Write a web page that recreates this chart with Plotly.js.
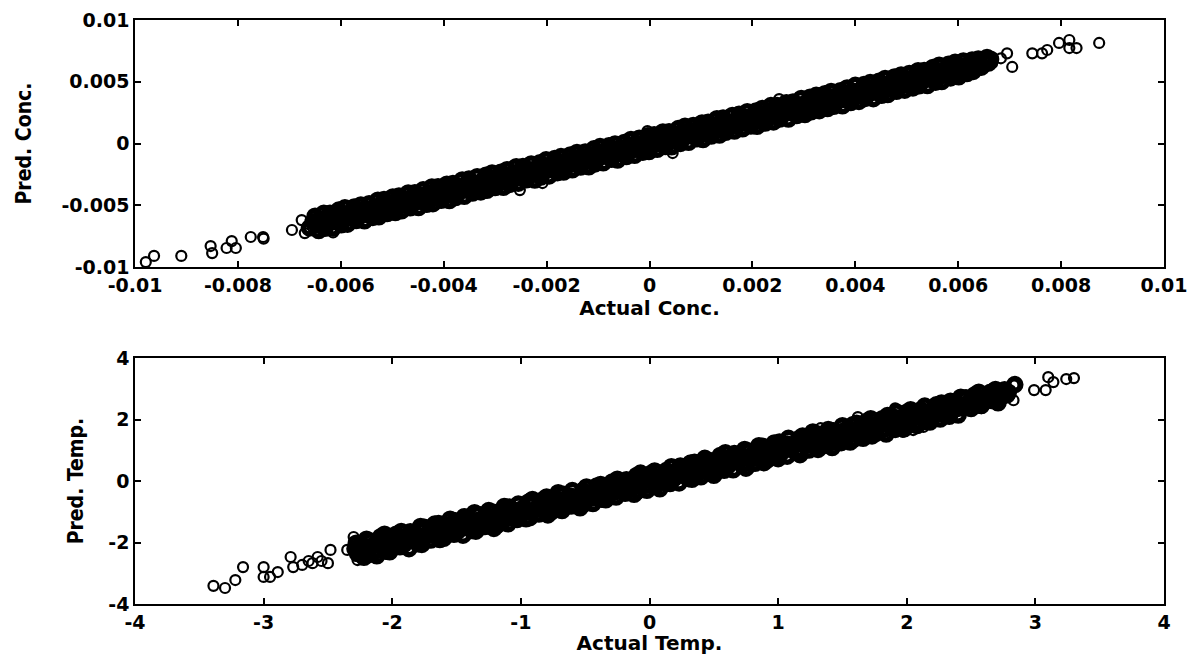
<!DOCTYPE html>
<html><head><meta charset="utf-8">
<script src="https://cdn.plot.ly/plotly-3.0.1.min.js"></script>
<style>html,body{margin:0;padding:0;background:#fff}#chart{width:1191px;height:655px}</style>
</head><body><div id="chart"></div>
<script>
// ---- Upper panel: concentration, dense band ----
const concBandActual = [
-650e-5,-633e-5,-621e-5,-604e-5,-592e-5,-574e-5,-561e-5,-545e-5,-528e-5,-516e-5,
-499e-5,-487e-5,-469e-5,-456e-5,-440e-5,-423e-5,-411e-5,-394e-5,-382e-5,-364e-5,
-351e-5,-335e-5,-318e-5,-306e-5,-289e-5,-277e-5,-259e-5,-246e-5,-230e-5,-213e-5,
-201e-5,-184e-5,-172e-5,-154e-5,-141e-5,-125e-5,-108e-5,-96e-5,-79e-5,-67e-5,
-49e-5,-36e-5,-20e-5,-3e-5,9e-5,26e-5,38e-5,56e-5,69e-5,85e-5,
102e-5,114e-5,131e-5,143e-5,161e-5,174e-5,190e-5,207e-5,219e-5,236e-5,
248e-5,266e-5,279e-5,295e-5,312e-5,324e-5,341e-5,353e-5,371e-5,384e-5,
400e-5,417e-5,429e-5,446e-5,458e-5,476e-5,489e-5,505e-5,522e-5,534e-5,
551e-5,563e-5,581e-5,594e-5,610e-5,627e-5,639e-5,656e-5,
-654e-5,-641e-5,-625e-5,-608e-5,-597e-5,-579e-5,-565e-5,-549e-5,-536e-5,-520e-5,
-503e-5,-492e-5,-474e-5,-460e-5,-444e-5,-431e-5,-415e-5,-398e-5,-387e-5,-369e-5,
-355e-5,-339e-5,-326e-5,-310e-5,-293e-5,-282e-5,-264e-5,-250e-5,-234e-5,-221e-5,
-205e-5,-188e-5,-177e-5,-159e-5,-145e-5,-129e-5,-116e-5,-100e-5,-83e-5,-72e-5,
-54e-5,-40e-5,-24e-5,-11e-5,5e-5,22e-5,33e-5,51e-5,65e-5,81e-5,
94e-5,110e-5,127e-5,138e-5,156e-5,170e-5,186e-5,199e-5,215e-5,232e-5,
243e-5,261e-5,275e-5,291e-5,304e-5,320e-5,337e-5,348e-5,366e-5,380e-5,
396e-5,409e-5,425e-5,442e-5,453e-5,471e-5,485e-5,501e-5,514e-5,530e-5,
547e-5,558e-5,576e-5,590e-5,606e-5,619e-5,635e-5,652e-5,663e-5,
-647e-5,-635e-5,-618e-5,-601e-5,-589e-5,-572e-5,-559e-5,-542e-5,-530e-5,-513e-5,
-496e-5,-484e-5,-467e-5,-454e-5,-437e-5,-425e-5,-408e-5,-391e-5,-379e-5,-362e-5,
-349e-5,-332e-5,-320e-5,-303e-5,-286e-5,-274e-5,-257e-5,-244e-5,-227e-5,-215e-5,
-198e-5,-181e-5,-169e-5,-152e-5,-139e-5,-122e-5,-110e-5,-93e-5,-76e-5,-64e-5,
-47e-5,-34e-5,-17e-5,-5e-5,12e-5,29e-5,41e-5,58e-5,71e-5,88e-5,
100e-5,117e-5,134e-5,146e-5,163e-5,176e-5,193e-5,205e-5,222e-5,239e-5,
251e-5,268e-5,281e-5,298e-5,310e-5,327e-5,344e-5,356e-5,373e-5,386e-5,
403e-5,415e-5,432e-5,449e-5,461e-5,478e-5,491e-5,508e-5,520e-5,537e-5,
554e-5,566e-5,583e-5,596e-5,613e-5,625e-5,642e-5,659e-5,
-661e-5,-644e-5,-628e-5,-615e-5,-602e-5,-584e-5,-571e-5,-556e-5,-539e-5,-523e-5,
-510e-5,-497e-5,-479e-5,-466e-5,-451e-5,-434e-5,-418e-5,-405e-5,-392e-5,-374e-5,
-361e-5,-346e-5,-329e-5,-313e-5,-300e-5,-287e-5,-269e-5,-256e-5,-241e-5,-224e-5,
-208e-5,-195e-5,-182e-5,-164e-5,-151e-5,-136e-5,-119e-5,-103e-5,-90e-5,-77e-5,
-59e-5,-46e-5,-31e-5,-14e-5,2e-5,15e-5,28e-5,46e-5,59e-5,74e-5,
91e-5,107e-5,120e-5,133e-5,151e-5,164e-5,179e-5,196e-5,212e-5,225e-5,
238e-5,256e-5,269e-5,284e-5,301e-5,317e-5,330e-5,343e-5,361e-5,374e-5,
389e-5,406e-5,422e-5,435e-5,448e-5,466e-5,479e-5,494e-5,511e-5,527e-5,
540e-5,553e-5,571e-5,584e-5,599e-5,616e-5,632e-5,645e-5,
-643e-5,-631e-5,-615e-5,-599e-5,-587e-5,-570e-5,-554e-5,-538e-5,-526e-5,-510e-5,
-494e-5,-482e-5,-465e-5,-449e-5,-433e-5,-421e-5,-405e-5,-389e-5,-377e-5,-360e-5,
-344e-5,-328e-5,-316e-5,-300e-5,-284e-5,-272e-5,-255e-5,-239e-5,-223e-5,-211e-5,
-195e-5,-179e-5,-167e-5,-150e-5,-134e-5,-118e-5,-106e-5,-90e-5,-74e-5,-62e-5,
-45e-5,-29e-5,-13e-5,-1e-5,15e-5,31e-5,43e-5,60e-5,76e-5,92e-5,
104e-5,120e-5,136e-5,148e-5,165e-5,181e-5,197e-5,209e-5,225e-5,241e-5,
253e-5,270e-5,286e-5,302e-5,314e-5,330e-5,346e-5,358e-5,375e-5,391e-5,
407e-5,419e-5,435e-5,451e-5,463e-5,480e-5,496e-5,512e-5,524e-5,540e-5,
556e-5,568e-5,585e-5,601e-5,617e-5,629e-5
];
const concBandPred = [
-588e-5,-565e-5,-564e-5,-539e-5,-521e-5,-514e-5,-497e-5,-487e-5,-459e-5,-453e-5,
-433e-5,-425e-5,-401e-5,-399e-5,-375e-5,-352e-5,-351e-5,-330e-5,-324e-5,-295e-5,
-288e-5,-269e-5,-256e-5,-238e-5,-232e-5,-212e-5,-188e-5,-186e-5,-166e-5,-155e-5,
-132e-5,-121e-5,-106e-5,-92e-5,-73e-5,-68e-5,-43e-5,-25e-5,-19e-5,-3e-5,
9e-5,33e-5,43e-5,63e-5,71e-5,94e-5,95e-5,121e-5,140e-5,145e-5,
166e-5,172e-5,200e-5,206e-5,227e-5,236e-5,258e-5,264e-5,284e-5,307e-5,
308e-5,330e-5,337e-5,364e-5,375e-5,390e-5,403e-5,421e-5,428e-5,449e-5,
471e-5,477e-5,493e-5,504e-5,527e-5,539e-5,555e-5,567e-5,590e-5,591e-5,
616e-5,634e-5,641e-5,658e-5,668e-5,677e-5,684e-5,696e-5,
-634e-5,-615e-5,-611e-5,-586e-5,-569e-5,-562e-5,-541e-5,-537e-5,-515e-5,-495e-5,
-487e-5,-472e-5,-448e-5,-446e-5,-422e-5,-403e-5,-398e-5,-374e-5,-375e-5,-348e-5,
-330e-5,-323e-5,-306e-5,-284e-5,-279e-5,-260e-5,-236e-5,-233e-5,-210e-5,-209e-5,
-184e-5,-163e-5,-161e-5,-139e-5,-119e-5,-115e-5,-94e-5,-72e-5,-66e-5,-48e-5,
-42e-5,-19e-5,1e-5,5e-5,25e-5,48e-5,47e-5,73e-5,93e-5,98e-5,
118e-5,122e-5,148e-5,163e-5,172e-5,190e-5,212e-5,213e-5,237e-5,260e-5,
260e-5,285e-5,287e-5,312e-5,329e-5,336e-5,357e-5,374e-5,380e-5,402e-5,
424e-5,426e-5,449e-5,454e-5,474e-5,496e-5,501e-5,521e-5,540e-5,544e-5,
569e-5,586e-5,593e-5,614e-5,618e-5,640e-5,660e-5,668e-5,683e-5,
-644e-5,-641e-5,-610e-5,-603e-5,-584e-5,-580e-5,-559e-5,-536e-5,-534e-5,-511e-5,
-503e-5,-481e-5,-473e-5,-446e-5,-439e-5,-420e-5,-416e-5,-391e-5,-373e-5,-366e-5,
-347e-5,-339e-5,-317e-5,-309e-5,-278e-5,-276e-5,-252e-5,-252e-5,-227e-5,-209e-5,
-202e-5,-179e-5,-176e-5,-149e-5,-145e-5,-114e-5,-112e-5,-88e-5,-84e-5,-64e-5,
-41e-5,-38e-5,-15e-5,-12e-5,15e-5,23e-5,49e-5,56e-5,76e-5,80e-5,
100e-5,123e-5,130e-5,148e-5,156e-5,179e-5,187e-5,213e-5,220e-5,244e-5,
243e-5,268e-5,287e-5,294e-5,312e-5,320e-5,347e-5,350e-5,381e-5,384e-5,
408e-5,407e-5,432e-5,455e-5,457e-5,480e-5,484e-5,511e-5,514e-5,545e-5,
552e-5,571e-5,575e-5,596e-5,619e-5,621e-5,644e-5,652e-5,
-683e-5,-660e-5,-656e-5,-634e-5,-627e-5,-598e-5,-601e-5,-576e-5,-563e-5,-540e-5,
-537e-5,-519e-5,-495e-5,-494e-5,-470e-5,-459e-5,-432e-5,-435e-5,-412e-5,-398e-5,
-378e-5,-373e-5,-351e-5,-329e-5,-328e-5,-306e-5,-294e-5,-270e-5,-271e-5,-244e-5,
-232e-5,-212e-5,-209e-5,-186e-5,-167e-5,-164e-5,-138e-5,-128e-5,-104e-5,-107e-5,
-79e-5,-70e-5,-48e-5,-41e-5,-20e-5,-1e-5,0,27e-5,34e-5,60e-5,
61e-5,87e-5,96e-5,116e-5,124e-5,142e-5,163e-5,168e-5,193e-5,200e-5,
224e-5,226e-5,249e-5,260e-5,284e-5,290e-5,308e-5,327e-5,333e-5,355e-5,
364e-5,392e-5,392e-5,415e-5,424e-5,449e-5,452e-5,472e-5,495e-5,499e-5,
521e-5,528e-5,557e-5,554e-5,579e-5,592e-5,615e-5,618e-5,
-705e-5,-687e-5,-685e-5,-658e-5,-653e-5,-624e-5,-626e-5,-598e-5,-593e-5,-567e-5,
-558e-5,-544e-5,-521e-5,-519e-5,-492e-5,-487e-5,-459e-5,-461e-5,-437e-5,-427e-5,
-401e-5,-392e-5,-378e-5,-356e-5,-354e-5,-331e-5,-321e-5,-293e-5,-295e-5,-271e-5,
-262e-5,-236e-5,-231e-5,-212e-5,-190e-5,-188e-5,-165e-5,-156e-5,-128e-5,-134e-5,
-105e-5,-96e-5,-70e-5,-65e-5,-47e-5,-25e-5,-27e-5,1e-5,10e-5,38e-5,
32e-5,60e-5,69e-5,91e-5,101e-5,119e-5,141e-5,139e-5,166e-5,175e-5,
199e-5,198e-5,226e-5,235e-5,257e-5,266e-5,284e-5,302e-5,305e-5,332e-5,
341e-5,365e-5,363e-5,391e-5,396e-5,423e-5,432e-5,450e-5,468e-5,470e-5,
497e-5,502e-5,531e-5,541e-5,567e-5,584e-5
];
// ---- Upper panel: scattered points off the band ----
const concSparseActual = [
-979e-5,-963e-5,-910e-5,-853e-5,-850e-5,-822e-5,-812e-5,-804e-5,-775e-5,-751e-5,
-750e-5,-695e-5,-676e-5,-670e-5,-615e-5,874e-5,816e-5,830e-5,816e-5,796e-5,
773e-5,763e-5,744e-5,705e-5,695e-5,683e-5,666e-5,252e-5,-4e-5,45e-5,
-252e-5,-208e-5
];
const concSparsePred = [
-960e-5,-910e-5,-910e-5,-830e-5,-887e-5,-846e-5,-790e-5,-846e-5,-757e-5,-757e-5,
-770e-5,-700e-5,-620e-5,-725e-5,-720e-5,814e-5,838e-5,773e-5,773e-5,814e-5,
757e-5,730e-5,730e-5,620e-5,730e-5,690e-5,650e-5,360e-5,100e-5,-77e-5,
-377e-5,-320e-5
];

// ---- Lower panel: temperature, dense band ----
const tempBandActual = [
-2.28,-2.20,-2.17,-2.09,-2.06,-1.97,-1.93,-1.86,-1.78,-1.75,
-1.67,-1.64,-1.55,-1.51,-1.44,-1.36,-1.33,-1.25,-1.22,-1.13,
-1.09,-1.02,-0.94,-0.91,-0.83,-0.80,-0.71,-0.67,-0.60,-0.52,
-0.49,-0.41,-0.38,-0.29,-0.25,-0.18,-0.10,-0.07,0.01,0.04,
0.13,0.17,0.24,0.32,0.35,0.43,0.46,0.55,0.59,0.66,
0.74,0.77,0.85,0.88,0.97,1.01,1.08,1.16,1.19,1.27,
1.30,1.39,1.43,1.50,1.58,1.61,1.69,1.72,1.81,1.85,
1.92,2.00,2.03,2.11,2.14,2.23,2.27,2.34,2.42,2.45,
2.53,2.56,2.65,2.69,2.76,2.84,
-2.29,-2.25,-2.18,-2.10,-2.08,-1.99,-1.94,-1.87,-1.83,-1.76,
-1.68,-1.66,-1.57,-1.52,-1.45,-1.41,-1.34,-1.26,-1.24,-1.15,
-1.10,-1.03,-0.99,-0.92,-0.84,-0.82,-0.73,-0.68,-0.61,-0.57,
-0.50,-0.42,-0.40,-0.31,-0.26,-0.19,-0.15,-0.08,0.00,0.02,
0.11,0.16,0.23,0.27,0.34,0.42,0.44,0.53,0.58,0.65,
0.69,0.76,0.84,0.86,0.95,1.00,1.07,1.11,1.18,1.26,
1.28,1.37,1.42,1.49,1.53,1.60,1.68,1.70,1.79,1.84,
1.91,1.95,2.02,2.10,2.12,2.21,2.26,2.33,2.37,2.44,
2.52,2.54,2.63,2.68,2.75,2.79,
-2.26,-2.23,-2.15,-2.07,-2.04,-1.96,-1.92,-1.84,-1.81,-1.73,
-1.65,-1.62,-1.54,-1.50,-1.42,-1.39,-1.31,-1.23,-1.20,-1.12,
-1.08,-1.00,-0.97,-0.89,-0.81,-0.78,-0.70,-0.66,-0.58,-0.55,
-0.47,-0.39,-0.36,-0.28,-0.24,-0.16,-0.13,-0.05,0.03,0.06,
0.14,0.18,0.26,0.29,0.37,0.45,0.48,0.56,0.60,0.68,
0.71,0.79,0.87,0.90,0.98,1.02,1.10,1.13,1.21,1.29,
1.32,1.40,1.44,1.52,1.55,1.63,1.71,1.74,1.82,1.86,
1.94,1.97,2.05,2.13,2.16,2.24,2.28,2.36,2.39,2.47,
2.55,2.58,2.66,2.70,2.78,
-2.27,-2.19,-2.12,-2.08,-2.04,-1.95,-1.91,-1.85,-1.77,-1.70,
-1.66,-1.62,-1.53,-1.49,-1.43,-1.35,-1.28,-1.24,-1.20,-1.11,
-1.07,-1.01,-0.93,-0.86,-0.82,-0.78,-0.69,-0.65,-0.59,-0.51,
-0.44,-0.40,-0.36,-0.27,-0.23,-0.17,-0.09,-0.02,0.02,0.06,
0.15,0.19,0.25,0.33,0.40,0.44,0.48,0.57,0.61,0.67,
0.75,0.82,0.86,0.90,0.99,1.03,1.09,1.17,1.24,1.28,
1.32,1.41,1.45,1.51,1.59,1.66,1.70,1.74,1.83,1.87,
1.93,2.01,2.08,2.12,2.16,2.25,2.29,2.35,2.43,2.50,
2.54,2.58,2.67,2.71,
-2.22,-2.19,-2.12,-2.05,-2.02,-1.94,-1.87,-1.80,-1.77,-1.70,
-1.63,-1.60,-1.52,-1.45,-1.38,-1.35,-1.28,-1.21,-1.18,-1.10,
-1.03,-0.96,-0.93,-0.86,-0.79,-0.76,-0.68,-0.61,-0.54,-0.51,
-0.44,-0.37,-0.34,-0.26,-0.19,-0.12,-0.09,-0.02,0.05,0.08,
0.16,0.23,0.30,0.33,0.40,0.47,0.50,0.58,0.65,0.72,
0.75,0.82,0.89,0.92,1.00,1.07,1.14,1.17,1.24,1.31,
1.34,1.42,1.49,1.56,1.59,1.66,1.73,1.76,1.84,1.91,
1.98,2.01,2.08,2.15,2.18,2.26,2.33,2.40
];
const tempBandPred = [
-2.02,-1.89,-1.95,-1.81,-1.73,-1.73,-1.64,-1.65,-1.48,-1.50,
-1.40,-1.38,-1.24,-1.29,-1.16,-1.03,-1.09,-0.96,-1.01,-0.83,
-0.84,-0.75,-0.68,-0.60,-0.61,-0.52,-0.38,-0.43,-0.31,-0.31,
-0.19,-0.16,-0.11,-0.03,0.06,0.04,0.18,0.26,0.25,0.33,
0.34,0.47,0.49,0.59,0.61,0.74,0.68,0.83,0.92,0.90,
1.03,0.98,1.15,1.13,1.24,1.27,1.39,1.38,1.47,1.60,
1.54,1.68,1.64,1.80,1.83,1.88,1.95,2.03,2.03,2.13,
2.25,2.24,2.32,2.32,2.44,2.48,2.54,2.60,2.73,2.67,
2.81,2.89,2.89,2.98,2.97,3.14,
-2.20,-2.11,-2.14,-1.99,-1.92,-1.93,-1.82,-1.84,-1.73,-1.61,
-1.61,-1.57,-1.43,-1.48,-1.34,-1.25,-1.28,-1.14,-1.21,-1.05,
-0.95,-0.96,-0.90,-0.78,-0.80,-0.71,-0.57,-0.62,-0.49,-0.54,
-0.40,-0.27,-0.33,-0.22,-0.12,-0.15,-0.04,0.08,0.06,0.14,
0.14,0.26,0.38,0.34,0.43,0.56,0.48,0.64,0.74,0.71,
0.81,0.79,0.94,1.01,1.02,1.09,1.21,1.15,1.29,1.42,
1.34,1.49,1.45,1.59,1.68,1.67,1.77,1.84,1.83,1.95,
2.07,2.01,2.14,2.13,2.22,2.36,2.33,2.42,2.51,2.48,
2.63,2.70,2.69,2.80,2.78,2.89,
-2.25,-2.26,-2.11,-2.08,-2.01,-2.00,-1.92,-1.81,-1.83,-1.72,
-1.69,-1.61,-1.57,-1.46,-1.43,-1.36,-1.35,-1.23,-1.17,-1.14,
-1.07,-1.04,-0.96,-0.92,-0.77,-0.79,-0.67,-0.70,-0.58,-0.52,
-0.49,-0.38,-0.40,-0.27,-0.27,-0.12,-0.14,-0.02,-0.01,0.06,
0.17,0.16,0.27,0.25,0.38,0.42,0.52,0.55,0.63,0.64,
0.71,0.82,0.85,0.91,0.94,1.03,1.07,1.17,1.20,1.32,
1.28,1.40,1.47,1.50,1.56,1.59,1.72,1.71,1.86,1.85,
1.97,1.93,2.05,2.16,2.14,2.25,2.24,2.37,2.36,2.51,
2.54,2.61,2.62,2.70,2.81,
-2.36,-2.23,-2.26,-2.15,-2.16,-1.98,-2.07,-1.93,-1.88,-1.75,
-1.79,-1.71,-1.57,-1.63,-1.50,-1.47,-1.31,-1.40,-1.28,-1.22,
-1.12,-1.14,-1.02,-0.90,-0.96,-0.85,-0.81,-0.68,-0.75,-0.59,
-0.55,-0.45,-0.49,-0.36,-0.27,-0.31,-0.16,-0.14,-0.01,-0.10,
0.07,0.08,0.20,0.20,0.31,0.40,0.34,0.50,0.49,0.64,
0.59,0.74,0.75,0.85,0.86,0.94,1.05,1.03,1.17,1.16,
1.29,1.25,1.37,1.40,1.54,1.53,1.61,1.70,1.69,1.80,
1.81,1.98,1.92,2.04,2.05,2.20,2.16,2.26,2.39,2.36,
2.47,2.46,2.64,2.55,
-2.48,-2.40,-2.43,-2.28,-2.30,-2.14,-2.20,-2.04,-2.06,-1.92,
-1.90,-1.86,-1.73,-1.76,-1.61,-1.63,-1.48,-1.54,-1.42,-1.39,
-1.25,-1.23,-1.19,-1.07,-1.10,-0.99,-0.96,-0.81,-0.87,-0.75,
-0.73,-0.59,-0.61,-0.52,-0.40,-0.43,-0.32,-0.30,-0.15,-0.25,
-0.08,-0.06,0.08,0.06,0.14,0.26,0.19,0.35,0.37,0.52,
0.42,0.58,0.60,0.70,0.73,0.81,0.93,0.86,1.01,1.03,
1.14,1.09,1.25,1.27,1.37,1.39,1.47,1.55,1.53,1.68,
1.70,1.81,1.81,1.93,1.92,2.02,2.11,2.15
];
// ---- Lower panel: scattered points off the band ----
const tempSparseActual = [
-3.39,-3.30,-3.22,-3.16,-3.00,-3.00,-2.95,-2.89,-2.79,-2.77,
-2.70,-2.62,-2.58,-2.50,-2.48,-2.35,-2.30,-2.27,-2.65,-2.55,
3.30,3.24,3.14,3.08,3.10,2.99,2.83,2.83,2.68,2.58,
2.46,2.37,2.26,2.21,2.13,2.05,1.91,1.97,1.62,1.33
];
const tempSparsePred = [
-3.41,-3.48,-3.22,-2.80,-2.80,-3.12,-3.12,-2.96,-2.47,-2.80,
-2.73,-2.67,-2.47,-2.67,-2.24,-2.24,-1.82,-2.57,-2.60,-2.60,
3.35,3.32,3.22,2.96,3.38,2.96,3.12,2.63,2.96,2.37,
2.80,2.63,2.53,2.05,1.76,1.66,2.37,1.60,2.08,1.72
];

// ---- Tick labels ----
const concXTickVals = [-0.01,-0.008,-0.006,-0.004,-0.002,0,0.002,0.004,0.006,0.008,0.01];
const concXTickText = ['-0.01','-0.008','-0.006','-0.004','-0.002','0','0.002','0.004','0.006','0.008','0.01'];
const concYTickVals = [-0.01,-0.005,0,0.005,0.01];
const concYTickText = ['-0.01','-0.005','0','0.005','0.01'];
const tempXTickVals = [-4,-3,-2,-1,0,1,2,3,4];
const tempXTickText = ['-4','-3','-2','-1','0','1','2','3','4'];
const tempYTickVals = [-4,-2,0,2,4];
const tempYTickText = ['-4','-2','0','2','4'];

const tickFont = {family: 'DejaVu Sans, Arial, sans-serif', size: 19, weight: 'bold', color: '#000'};
const xTitleFont = {family: 'DejaVu Sans, Arial, sans-serif', size: 20, weight: 'bold', color: '#000'};
const yTitleFont = {family: '"Liberation Sans Narrow", "DejaVu Sans Condensed", "Liberation Sans", sans-serif', size: 21, weight: 'bold', color: '#000'};

function axis(extra) {
  return Object.assign({
    showline: true, linecolor: '#000', linewidth: 1.6, mirror: 'ticks',
    ticks: 'inside', ticklen: 6, tickwidth: 1.6, tickcolor: '#000',
    showgrid: false, zeroline: false, tickmode: 'array', tickfont: tickFont,
    fixedrange: true
  }, extra);
}

const bandMarker = {symbol: 'circle-open', size: 12, color: '#000', line: {width: 5.5, color: '#000'}};
const sparseMarker = {symbol: 'circle-open', size: 10, color: '#000', line: {width: 2.2, color: '#000'}};

const data = [
  {type: 'scatter', mode: 'markers', x: concBandActual, y: concBandPred, xaxis: 'x', yaxis: 'y', marker: bandMarker, hoverinfo: 'x+y'},
  {type: 'scatter', mode: 'markers', x: concSparseActual, y: concSparsePred, xaxis: 'x', yaxis: 'y', marker: sparseMarker, hoverinfo: 'x+y'},
  {type: 'scatter', mode: 'markers', x: tempBandActual, y: tempBandPred, xaxis: 'x2', yaxis: 'y2', marker: bandMarker, hoverinfo: 'x+y'},
  {type: 'scatter', mode: 'markers', x: tempSparseActual, y: tempSparsePred, xaxis: 'x2', yaxis: 'y2', marker: sparseMarker, hoverinfo: 'x+y'}
];

const layout = {
  width: 1191, height: 655,
  margin: {l: 135, r: 27, t: 20, b: 51},
  paper_bgcolor: '#fff', plot_bgcolor: '#fff',
  showlegend: false,
  xaxis: axis({domain: [0, 1], anchor: 'y', range: [-0.01, 0.01],
    tickvals: concXTickVals, ticktext: concXTickText,
    title: {text: 'Actual Conc.', font: xTitleFont, standoff: 3}}),
  yaxis: axis({domain: [0.577, 1], anchor: 'x', range: [-0.01, 0.01],
    tickvals: concYTickVals, ticktext: concYTickText,
    title: {text: 'Pred. Conc.', font: yTitleFont, standoff: 24}}),
  xaxis2: axis({domain: [0, 1], anchor: 'y2', range: [-4, 4],
    tickvals: tempXTickVals, ticktext: tempXTickText,
    title: {text: 'Actual Temp.', font: xTitleFont, standoff: 3}}),
  yaxis2: axis({domain: [0, 0.421], anchor: 'x2', range: [-4, 4],
    tickvals: tempYTickVals, ticktext: tempYTickText,
    title: {text: 'Pred. Temp.', font: yTitleFont, standoff: 19}})
};

Plotly.newPlot('chart', data, layout, {displayModeBar: false, responsive: false});
</script>
</body></html>
